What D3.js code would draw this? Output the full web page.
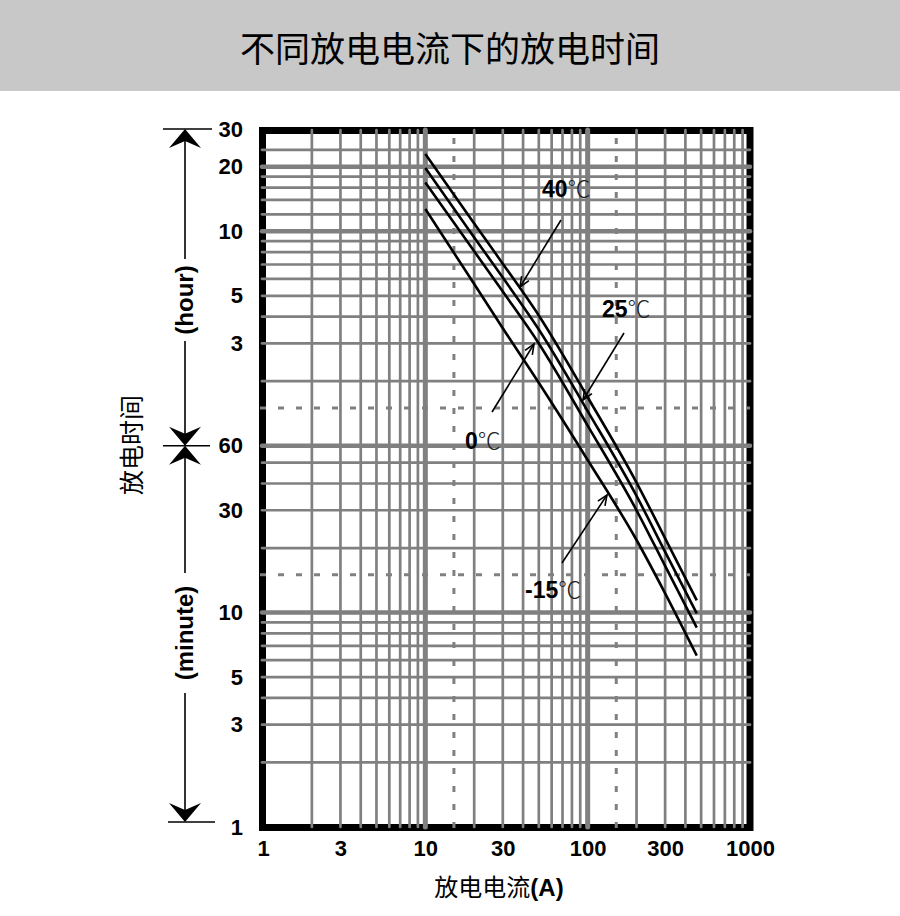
<!DOCTYPE html>
<html><head><meta charset="utf-8">
<script src="https://cdn.jsdelivr.net/npm/d3@7"></script>
<style>
html,body{margin:0;padding:0;background:#fff;}
svg{display:block;}
</style></head>
<body>
<svg id="chart" width="900" height="916"></svg>
<script>
// ---------- data ----------
const title = "不同放电电流下的放电时间";
const xTitleCn = "放电电流";
const xTitleEn = "(A)";
const yTitle = "放电时间";

const currents = [10, 20, 30, 50, 100, 200, 300, 470];          // A
const t40  = [1377, 653, 424, 243, 101, 40.4, 22.2, 11.4];       // minutes
const t25  = [1183, 562, 365, 209, 87, 35, 19.2, 9.9];
const t0   = [1013, 484, 314, 180, 74.5, 30, 16.5, 8.5];
const tm15 = [762, 341, 212, 118, 51.5, 21.8, 12.3, 6.3];
const seriesNames = ["40", "25", "0", "-15"];

const xTicks = [1, 3, 10, 30, 100, 300, 1000];
const yTickVals = [1, 3, 5, 10, 30, 60, 180, 300, 600, 1200, 1800];   // minutes
const yTickLabels = ["1", "3", "5", "10", "30", "60", "3", "5", "10", "20", "30"];

const gridXMinor = [2,3,4,5,6,7,8,9,20,30,40,50,60,70,80,90,200,300,400,500,600,700,800,900];
const gridXMajor = [10, 100];
const gridXDashed = [15, 150];
const gridYMinor = [2,3,4,5,6,7,8,9,20,30,40,50,120,180,240,300,360,420,480,540,720,840,960,1080,1440];
const gridYMajor = [10, 60, 600, 1200];
const gridYDashed = [15, 90];

// ---------- drawing ----------
const svg = d3.select("#chart");
const gray = "#808080";
const x = d3.scaleLog().domain([1, 1000]).range([263, 750]);
const y = d3.scaleLog().domain([1, 1800]).range([827, 129]);
const L = x.range()[0], R = x.range()[1], T = y.range()[1], B = y.range()[0];

svg.append("rect").attr("width", 900).attr("height", 916).attr("fill", "#fff");
svg.append("rect").attr("width", 900).attr("height", 91).attr("fill", "#c8c8c8");
svg.append("text").attr("x", 450).attr("y", 46)
  .attr("text-anchor", "middle").attr("dominant-baseline", "central")
  .attr("font-family", "'Noto Sans CJK SC', sans-serif").attr("font-size", 35)
  .attr("fill", "#000").text(title);

// frame
svg.append("rect").attr("x", L - 0.5).attr("y", T + 1.5)
  .attr("width", R - L + 0.5).attr("height", B - T - 1)
  .attr("fill", "none").attr("stroke", "#000").attr("stroke-width", 7);

const grid = svg.append("g").attr("stroke", gray).attr("stroke-linecap", "round");
function vline(v, w, dash) {
  const l = grid.append("line").attr("x1", x(v)).attr("x2", x(v))
    .attr("y1", B).attr("y2", T + 1).attr("stroke-width", w);
  if (dash) l.attr("stroke-dasharray", dash).attr("stroke-linecap", "butt").attr("y1", B + 1);
}
function hline(v, w, dash) {
  const l = grid.append("line").attr("y1", y(v)).attr("y2", y(v))
    .attr("x1", L - 1).attr("x2", R).attr("stroke-width", w);
  if (dash) l.attr("stroke-dasharray", dash).attr("stroke-linecap", "butt").attr("x1", L - 3);
}
gridXMinor.forEach(v => vline(v, 2.7));
gridYMinor.forEach(v => hline(v, 2.7));
gridXDashed.forEach(v => vline(v, 3, "6,12"));
gridYDashed.forEach(v => hline(v, 3, "6,12"));
gridXMajor.forEach(v => vline(v, 5));
gridYMajor.forEach(v => hline(v, 4.5));

// curves
const line = d3.line().x(d => x(d[0])).y(d => y(d[1])).curve(d3.curveMonotoneX);
[t40, t25, t0, tm15].forEach(s => {
  svg.append("path").attr("d", line(currents.map((c, i) => [c, s[i]])))
    .attr("fill", "none").attr("stroke", "#000").attr("stroke-width", 2.6);
});

// axes
const fontNum = "'Liberation Sans', Arial, sans-serif";
const xAxis = svg.append("g").attr("transform", `translate(0,${B})`)
  .call(d3.axisBottom(x).tickValues(xTicks).tickFormat(d3.format("d")).tickSize(0).tickPadding(13));
xAxis.select(".domain").remove();
xAxis.selectAll("text").attr("font-family", fontNum).attr("font-weight", "bold")
  .attr("font-size", 22).attr("fill", "#000");

const yAxis = svg.append("g").attr("transform", `translate(${L},0)`)
  .call(d3.axisLeft(y).tickValues(yTickVals).tickFormat((d, i) => yTickLabels[i]).tickSize(0).tickPadding(20));
yAxis.select(".domain").remove();
yAxis.selectAll("text").attr("font-family", fontNum).attr("font-weight", "bold")
  .attr("font-size", 22).attr("fill", "#000");

// left unit indicators
const ax = 185;
const ind = svg.append("g").attr("stroke", "#000").attr("stroke-width", 1.6);
const yTop = y(1800), y60 = y(60), yBot = B - 5;
ind.append("line").attr("x1", 163).attr("x2", 212).attr("y1", yTop).attr("y2", yTop);
ind.append("line").attr("x1", 163).attr("x2", 210).attr("y1", y60).attr("y2", y60);
ind.append("line").attr("x1", 168).attr("x2", 215).attr("y1", yBot).attr("y2", yBot);
const hourC = 300, minC = 633;
ind.append("line").attr("x1", ax).attr("x2", ax).attr("y1", yTop + 5).attr("y2", hourC - 41);
ind.append("line").attr("x1", ax).attr("x2", ax).attr("y1", hourC + 41).attr("y2", y60 - 5);
ind.append("line").attr("x1", ax).attr("x2", ax).attr("y1", y60 + 5).attr("y2", minC - 60);
ind.append("line").attr("x1", ax).attr("x2", ax).attr("y1", minC + 60).attr("y2", yBot - 5);
function stealth(tipY, dir) { // dir -1 = pointing up, +1 = pointing down
  const len = 19, hw = 16, notch = 7;
  const by = tipY - dir * len, ny = tipY - dir * (len - notch);
  svg.append("path").attr("d", `M${ax},${tipY}L${ax - hw},${by}L${ax},${ny}L${ax + hw},${by}Z`).attr("fill", "#000");
}
stealth(yTop, -1);
stealth(y60, 1);
stealth(y60, -1);
stealth(yBot, 1);
[["(hour)", hourC], ["(minute)", minC]].forEach(([t, c]) => {
  svg.append("text").attr("transform", `translate(${ax + 8},${c}) rotate(-90)`)
    .attr("text-anchor", "middle").attr("font-family", fontNum).attr("font-weight", "bold")
    .attr("font-size", 24).attr("fill", "#000").text(t);
});

// axis titles
svg.append("text").attr("transform", `translate(141,445) rotate(-90)`)
  .attr("text-anchor", "middle").attr("font-family", "'Noto Sans CJK SC', sans-serif")
  .attr("font-size", 25).attr("fill", "#000").text(yTitle);
const xt = svg.append("text").attr("x", 499).attr("y", 896).attr("text-anchor", "middle")
  .attr("font-size", 24).attr("fill", "#000");
xt.append("tspan").attr("font-family", "'Noto Sans CJK SC', sans-serif").text(xTitleCn);
xt.append("tspan").attr("font-family", fontNum).attr("font-weight", "bold").text(xTitleEn);

// curve labels with arrows (pixel positions derived from scales)
const labels = [
  {name: "40",  at: [x.invert(542), y.invert(197)], tail: [x.invert(561), y.invert(220)], tip: [x.invert(520), y.invert(287)]},
  {name: "25",  at: [x.invert(602), y.invert(317)], tail: [x.invert(624), y.invert(333)], tip: [x.invert(583), y.invert(400)]},
  {name: "0",   at: [x.invert(465), y.invert(449)], tail: [x.invert(492), y.invert(412)], tip: [x.invert(534), y.invert(344)]},
  {name: "-15", at: [x.invert(525), y.invert(598)], tail: [x.invert(562), y.invert(563)], tip: [x.invert(607), y.invert(495)]}
];
labels.forEach(l => {
  const t = svg.append("text").attr("x", x(l.at[0])).attr("y", y(l.at[1])).attr("font-size", 23);
  t.append("tspan").attr("font-family", fontNum).attr("font-weight", "bold").attr("fill", "#000").text(l.name);
  t.append("tspan").attr("font-family", "'Noto Sans CJK SC', sans-serif").attr("font-weight", 300)
    .attr("fill", "#222").text("℃");
  const x1 = x(l.tail[0]), y1 = y(l.tail[1]), x2 = x(l.tip[0]), y2 = y(l.tip[1]);
  svg.append("line").attr("x1", x1).attr("y1", y1).attr("x2", x2).attr("y2", y2)
    .attr("stroke", "#000").attr("stroke-width", 1.6);
  const a = Math.atan2(y2 - y1, x2 - x1), hl = 11, sp = 0.4;
  const p1 = [x2 - hl * Math.cos(a - sp), y2 - hl * Math.sin(a - sp)];
  const p2 = [x2 - hl * Math.cos(a + sp), y2 - hl * Math.sin(a + sp)];
  svg.append("path").attr("d", `M${p1}L${x2},${y2}L${p2}`).attr("fill", "none")
    .attr("stroke", "#000").attr("stroke-width", 1.6);
});
</script>
</body></html>
